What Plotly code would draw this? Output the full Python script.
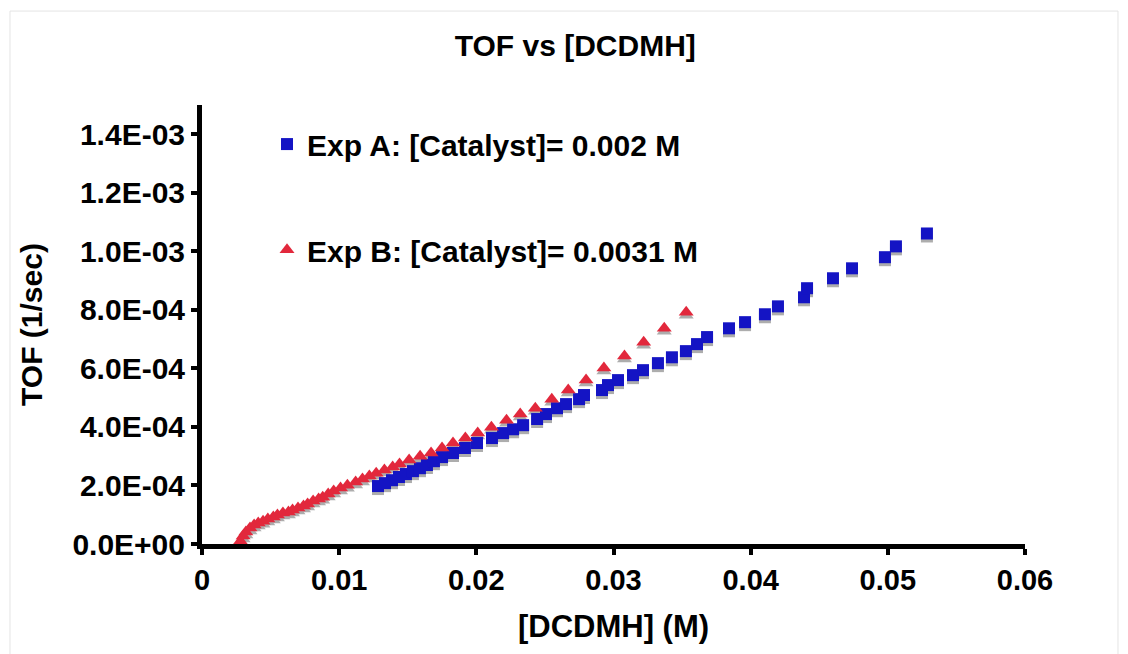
import plotly.graph_objects as go

# Exp A: [Catalyst] = 0.002 M
dcdmh_a = [0.01283, 0.01334, 0.01385, 0.01436, 0.01487, 0.01538, 0.01589, 0.01640,
           0.01691, 0.01750, 0.01830, 0.01917, 0.02005, 0.02114, 0.02195, 0.02268,
           0.02341, 0.02443, 0.02508, 0.02588, 0.02654, 0.02749, 0.02785, 0.02916,
           0.02960, 0.03033, 0.03142, 0.03215, 0.03324, 0.03426, 0.03528, 0.03609,
           0.03682, 0.03842, 0.03959, 0.04104, 0.04199, 0.04389, 0.04411, 0.04600,
           0.04739, 0.04979, 0.05059, 0.05285]
tof_a = [1.98e-4, 2.08e-4, 2.18e-4, 2.29e-4, 2.39e-4, 2.49e-4, 2.59e-4, 2.70e-4,
         2.83e-4, 2.97e-4, 3.11e-4, 3.28e-4, 3.45e-4, 3.62e-4, 3.79e-4, 3.92e-4,
         4.06e-4, 4.27e-4, 4.44e-4, 4.64e-4, 4.78e-4, 4.95e-4, 5.09e-4, 5.26e-4,
         5.43e-4, 5.60e-4, 5.77e-4, 5.94e-4, 6.18e-4, 6.38e-4, 6.59e-4, 6.83e-4,
         7.07e-4, 7.37e-4, 7.58e-4, 7.85e-4, 8.12e-4, 8.43e-4, 8.74e-4, 9.08e-4,
         9.42e-4, 9.80e-4, 1.017e-3, 1.061e-3]

# Exp B: [Catalyst] = 0.0031 M
dcdmh_b = [0.0028, 0.0030, 0.0032, 0.0035, 0.0038, 0.0041, 0.00445, 0.0048,
           0.0052, 0.0055, 0.0059, 0.0063, 0.0066, 0.0070, 0.0074, 0.0077,
           0.0081, 0.0085, 0.0088, 0.0092, 0.0096, 0.0101, 0.0106, 0.0112,
           0.0117, 0.0122, 0.0127, 0.0133, 0.0139, 0.0144, 0.0151, 0.0159,
           0.0167, 0.0175, 0.0183, 0.0192, 0.0201, 0.0211, 0.0222, 0.0232,
           0.0243, 0.0255, 0.0267, 0.0280, 0.0293, 0.0308, 0.0322, 0.0337, 0.0353]
tof_b = [0.10e-4, 0.27e-4, 0.41e-4, 0.55e-4, 0.65e-4, 0.72e-4, 0.78e-4, 0.85e-4,
         0.92e-4, 0.99e-4, 1.06e-4, 1.09e-4, 1.16e-4, 1.23e-4, 1.30e-4, 1.37e-4,
         1.47e-4, 1.54e-4, 1.60e-4, 1.71e-4, 1.81e-4, 1.91e-4, 2.01e-4, 2.12e-4,
         2.22e-4, 2.32e-4, 2.42e-4, 2.53e-4, 2.63e-4, 2.73e-4, 2.87e-4, 3.00e-4,
         3.11e-4, 3.28e-4, 3.45e-4, 3.62e-4, 3.79e-4, 3.99e-4, 4.23e-4, 4.44e-4,
         4.64e-4, 4.95e-4, 5.26e-4, 5.60e-4, 6.01e-4, 6.42e-4, 6.89e-4, 7.37e-4, 7.92e-4]

x_tick_vals = [0, 0.01, 0.02, 0.03, 0.04, 0.05, 0.06]
x_tick_text = ["0", "0.01", "0.02", "0.03", "0.04", "0.05", "0.06"]
y_tick_vals = [0, 2e-4, 4e-4, 6e-4, 8e-4, 1.0e-3, 1.2e-3, 1.4e-3]
y_tick_text = ["0.0E+00", "2.0E-04", "4.0E-04", "6.0E-04", "8.0E-04",
               "1.0E-03", "1.2E-03", "1.4E-03"]

BLUE = "#1414c4"
RED = "#e2283c"
SHADOW = "#adadad"
FONT = "Liberation Sans, Arial, Helvetica, sans-serif"

Y_MAX = 1.5e-3
PLOT_H = 439            # plot-area height in px
SHADOW_PX = 3           # drop-shadow offset in px
shift = SHADOW_PX * Y_MAX / PLOT_H

fig = go.Figure()

# drop shadows live on the hidden base axis, whose range is shifted so they sit a few px lower
fig.add_trace(go.Scatter(x=dcdmh_a, y=tof_a, mode="markers", yaxis="y", showlegend=False,
                         hoverinfo="skip",
                         marker=dict(symbol="square", size=12, color=SHADOW, line=dict(width=0))))
fig.add_trace(go.Scatter(x=dcdmh_b, y=tof_b, mode="markers", yaxis="y", showlegend=False,
                         hoverinfo="skip",
                         marker=dict(symbol="triangle-up", size=13, color=SHADOW, line=dict(width=0))))

# visible series on the overlaid axis
fig.add_trace(go.Scatter(x=dcdmh_a, y=tof_a, mode="markers", yaxis="y2",
                         name="Exp A: [Catalyst]= 0.002 M", legend="legend",
                         marker=dict(symbol="square", size=12, color=BLUE, line=dict(width=0))))
fig.add_trace(go.Scatter(x=dcdmh_b, y=tof_b, mode="markers", yaxis="y2",
                         name="Exp B: [Catalyst]= 0.0031 M", legend="legend2",
                         marker=dict(symbol="triangle-up", size=13, color=RED, line=dict(width=0))))

axis_common = dict(showline=True, linecolor="black", linewidth=5, ticks="outside",
                   ticklen=6, tickwidth=4, tickcolor="black", showgrid=False, zeroline=False)

def bold(size):
    return dict(family=FONT, size=size, color="black", weight="bold")

legend_common = dict(xanchor="left", yanchor="middle", bgcolor="rgba(0,0,0,0)",
                     borderwidth=0, font=bold(30))

fig.update_layout(
    width=1128, height=654,
    margin=dict(l=202, r=103, t=105, b=110),
    paper_bgcolor="white", plot_bgcolor="white",
    title=dict(text="TOF vs [DCDMH]", x=0.51, xref="container", y=0.93, yref="container",
               xanchor="center", yanchor="middle", font=bold(30)),
    xaxis=dict(range=[0, 0.06], tickvals=x_tick_vals, ticktext=x_tick_text,
               tickfont=bold(29),
               title=dict(text="[DCDMH] (M)", standoff=22, font=bold(31)),
               **axis_common),
    yaxis=dict(range=[shift, Y_MAX + shift], visible=False),
    yaxis2=dict(overlaying="y", side="left", range=[0, Y_MAX],
                tickvals=y_tick_vals, ticktext=y_tick_text, tickfont=bold(30),
                title=dict(text="TOF (1/sec)", standoff=22, font=bold(30)),
                **axis_common),
    legend=dict(x=0.079, y=0.911, **legend_common),
    legend2=dict(x=0.079, y=0.670, **legend_common),
    shapes=[dict(type="rect", xref="paper", yref="paper", x0=-0.2333, x1=1.113,
                 y0=-0.35, y1=1.214, line=dict(color="#e4e4e4", width=1), layer="below")],
)

fig.write_html("out.html")
